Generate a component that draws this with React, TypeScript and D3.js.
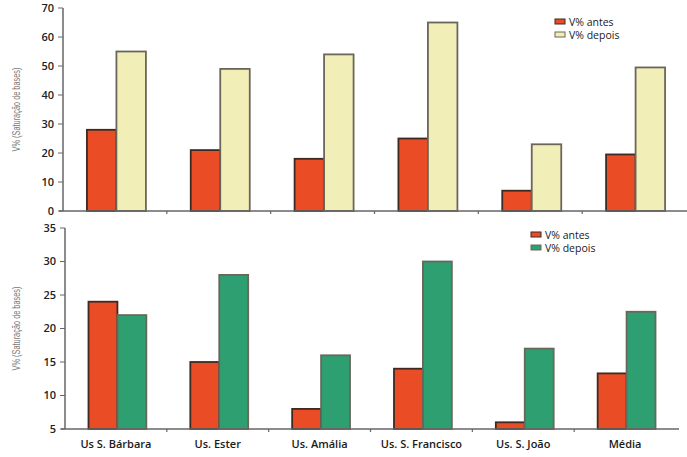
import * as d3 from "d3";

const categories = ["Us S. Bárbara", "Us. Ester", "Us. Amália", "Us. S. Francisco", "Us. S. João", "Média"];
const series = ["V% antes", "V% depois"];
const topAntes = [28, 21, 18, 25, 7, 19.5];
const topDepois = [55, 49, 54, 65, 23, 49.5];
const bottomAntes = [24, 15, 8, 14, 6, 13.3];
const bottomDepois = [22, 28, 16, 30, 17, 22.5];
const topTicks = [0, 10, 20, 30, 40, 50, 60, 70];
const bottomTicks = [5, 10, 15, 20, 25, 30, 35];

const W = 687;
const H = 457;
const RED = "#ea4c26";
const YELLOW = "#f1efb7";
const GREEN = "#2e9f70";
const AXIS = "#666";

function Panel({ antes, depois, ticks, domain, yTop, yBottom, xLeft, xRight, axisEnd, colors, legendX, legendY, showLabels }) {
  const x = d3.scaleBand().domain(categories).range([xLeft, xRight]);
  const sub = d3.scaleBand().domain(series).range([0, x.bandwidth()]).paddingOuter(0.76);
  const y = d3.scaleLinear().domain(domain).range([yBottom, yTop]);
  const base = domain[0];
  const values = [antes, depois];
  const strokes = ["#3d2b22", "#6a665a"];
  const midY = (yTop + yBottom) / 2;

  return (
    <g>
      {categories.map((c, i) => (
        <g key={c} transform={`translate(${x(c) + 1.5},0)`}>
          {series.map((s, k) => (
            <rect
              key={s}
              x={sub(s)}
              y={y(values[k][i])}
              width={sub.bandwidth()}
              height={y(base) - y(values[k][i])}
              fill={colors[k]}
              stroke={strokes[k]}
              strokeWidth={1.8}
            />
          ))}
        </g>
      ))}
      <line x1={xLeft} x2={xLeft} y1={yTop} y2={yBottom} stroke={AXIS} strokeWidth={1.5} />
      <line x1={xLeft - 4} x2={axisEnd} y1={yBottom} y2={yBottom} stroke={AXIS} strokeWidth={1.5} />
      {ticks.map((t) => (
        <g key={t} transform={`translate(0,${y(t)})`}>
          <line x1={xLeft - 5} x2={xLeft} stroke={AXIS} strokeWidth={1} />
          <text
            x={xLeft - 9}
            dy="0.35em"
            textAnchor="end"
            fontFamily="'Open Sans', sans-serif"
            fontWeight={600}
            fontSize={11}
            fill="#222"
          >
            {t}
          </text>
        </g>
      ))}
      {categories.slice(1).map((c) => (
        <line key={c} x1={x(c)} x2={x(c)} y1={yBottom} y2={yBottom + 3} stroke={AXIS} strokeWidth={1.2} />
      ))}
      {showLabels &&
        categories.map((c) => (
          <text
            key={c}
            x={x(c) + x.bandwidth() / 2}
            y={yBottom + 19}
            textAnchor="middle"
            fontFamily="'Open Sans', sans-serif"
            fontWeight={600}
            fontSize={11}
            fill="#1a1a1a"
          >
            {c}
          </text>
        ))}
      <text
        transform={`translate(20,${midY}) rotate(-90)`}
        textAnchor="middle"
        fontFamily="'Liberation Sans', Arial, sans-serif"
        fontSize={10}
        fill="#7a7a7a"
        textLength={84}
        lengthAdjust="spacingAndGlyphs"
      >
        V% (Saturação de bases)
      </text>
      {series.map((s, k) => (
        <g key={s} transform={`translate(${legendX},${legendY + k * 13})`}>
          <rect x={0} y={-3} width={10} height={5} fill={colors[k]} stroke={strokes[k]} strokeWidth={1} />
          <text
            x={14}
            dy="0.35em"
            fontFamily="'Open Sans', sans-serif"
            fontWeight={500}
            fontSize={10.5}
            fill="#1a1a1a"
          >
            {s}
          </text>
        </g>
      ))}
    </g>
  );
}

export default function App() {
  return (
    <svg width={W} height={H} style={{ position: "absolute", left: 0, top: 0, background: "#fff" }}>
      <Panel
        antes={topAntes}
        depois={topDepois}
        ticks={topTicks}
        domain={[0, 70]}
        yTop={8}
        yBottom={211}
        xLeft={63}
        xRight={686}
        axisEnd={687}
        colors={[RED, YELLOW]}
        legendX={555}
        legendY={22}
        showLabels={false}
      />
      <Panel
        antes={bottomAntes}
        depois={bottomDepois}
        ticks={bottomTicks}
        domain={[5, 35]}
        yTop={228}
        yBottom={429}
        xLeft={65}
        xRight={676}
        axisEnd={679}
        colors={[RED, GREEN]}
        legendX={531}
        legendY={235}
        showLabels={true}
      />
    </svg>
  );
}
